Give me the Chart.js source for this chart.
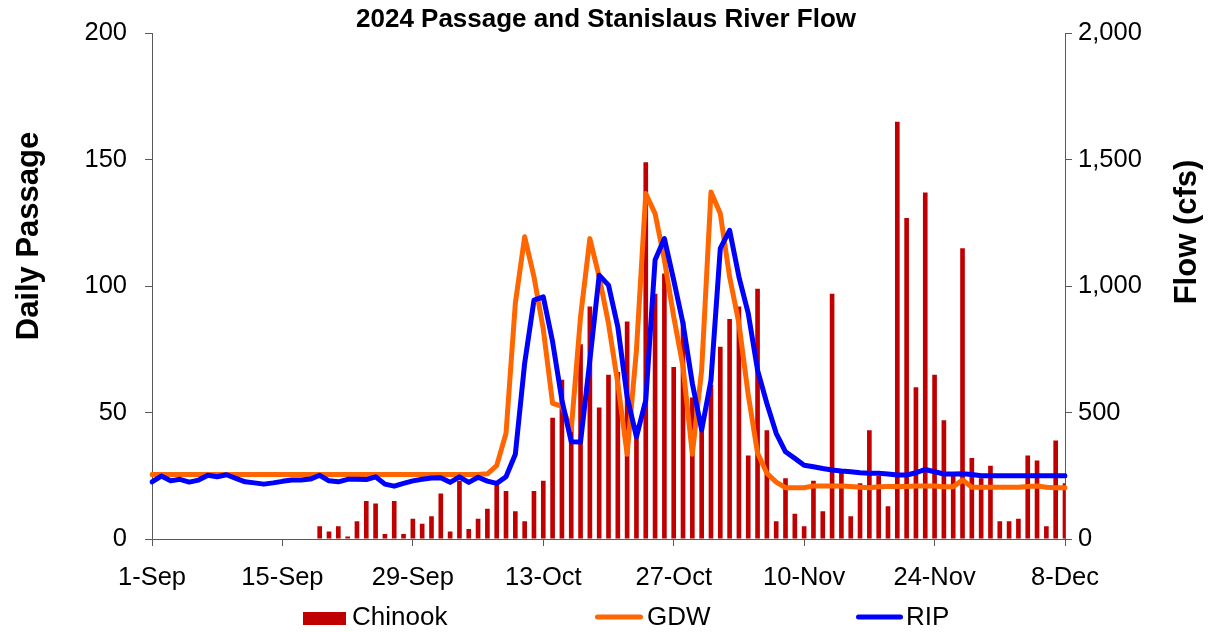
<!DOCTYPE html>
<html>
<head>
<meta charset="utf-8">
<title>2024 Passage and Stanislaus River Flow</title>
<script src="https://cdn.jsdelivr.net/npm/chart.js@4/dist/chart.umd.min.js"></script>
<style>
  html, body { margin: 0; padding: 0; background: #fff; }
  canvas { display: block; }
</style>
</head>
<body>
<canvas id="chart" width="1212" height="632"></canvas>
<script>
// daily values, 1-Sep .. 8-Dec 2024
const chinook = [
  0, 0, 0, 0, 0, 0, 0, 0, 0, 0,
  0, 0, 0, 0, 0, 0, 0, 0, 5, 3,
  5, 1, 7, 15, 14, 2, 15, 2, 8, 6,
  9, 18, 3, 23, 4, 8, 12, 22, 19, 11,
  7, 19, 23, 48, 63, 45, 77, 92, 52, 65,
  66, 86, 45, 149, 97, 105, 68, 86, 56, 45,
  61, 76, 87, 92, 33, 99, 43, 7, 24, 10,
  5, 23, 11, 97, 27, 9, 22, 43, 25, 13,
  165, 127, 60, 137, 65, 47, 25, 115, 32, 24,
  29, 7, 7, 8, 33, 31, 5, 39, 22
];

const gdw = [
  255, 255, 255, 255, 255, 255, 255, 255, 255, 255,
  255, 255, 255, 255, 255, 255, 255, 255, 255, 255,
  255, 255, 255, 255, 255, 255, 255, 255, 255, 255,
  255, 255, 255, 255, 255, 255, 258, 290, 418, 932,
  1195, 1037, 830, 536, 525, 431, 879, 1188, 1037, 852,
  615, 335, 747, 1366, 1287, 1103, 879, 681, 335, 668,
  1372, 1287, 1037, 852, 570, 340, 260, 225, 203, 203,
  203, 210, 210, 210, 210, 208, 205, 203, 207, 208,
  208, 208, 210, 210, 210, 207, 207, 233, 205, 205,
  205, 205, 205, 205, 208, 210, 205, 203, 203
];

const rip = [
  226, 249, 230, 236, 225, 233, 252, 246, 254, 240,
  226, 222, 217, 222, 228, 233, 233, 237, 252, 230,
  226, 236, 236, 235, 246, 217, 209, 220, 230, 236,
  241, 242, 224, 246, 224, 244, 229, 220, 246, 335,
  695, 945, 958, 780, 549, 385, 384, 707, 1043, 1004,
  839, 562, 404, 549, 1103, 1188, 1024, 852, 615, 431,
  628, 1149, 1221, 1037, 892, 668, 536, 418, 345, 319,
  292, 286, 279, 273, 269, 266, 262, 260, 260, 257,
  253, 253, 262, 275, 266, 257, 257, 258, 255, 250,
  250, 250, 250, 250, 250, 250, 250, 250, 250
];

const tickLabels = ['1-Sep', '15-Sep', '29-Sep', '13-Oct', '27-Oct', '10-Nov', '24-Nov', '8-Dec'];

const monthNames = ['Jan', 'Feb', 'Mar', 'Apr', 'May', 'Jun', 'Jul', 'Aug', 'Sep', 'Oct', 'Nov', 'Dec'];
const days = [];
for (let i = 0; i < chinook.length; i++) {
  const d = new Date(2024, 8, 1 + i);
  days.push(d.getDate() + '-' + monthNames[d.getMonth()]);
}

const FONT = '"Liberation Sans", Arial, sans-serif';
const axisColor = '#595959';

// axis titles (both read bottom-to-top) and the spread-out legend
const decorations = {
  id: 'decorations',
  afterDraw(chart) {
    const ctx = chart.ctx;
    ctx.save();
    ctx.fillStyle = '#000';
    ctx.textAlign = 'center';
    ctx.textBaseline = 'alphabetic';
    ctx.font = 'bold 31px ' + FONT;

    ctx.save();
    ctx.translate(38, 236);
    ctx.rotate(-Math.PI / 2);
    ctx.fillText('Daily Passage', 0, 0);
    ctx.restore();

    ctx.save();
    ctx.translate(1196, 232);
    ctx.rotate(-Math.PI / 2);
    ctx.fillText('Flow (cfs)', 0, 0);
    ctx.restore();

    const ds = chart.data.datasets;
    const items = [
      {x: 303, w: 43, textX: 352, box: true},
      {x: 595, w: 48, textX: 647},
      {x: 856, w: 47, textX: 906}
    ];
    ctx.font = '26px ' + FONT;
    ctx.textAlign = 'left';
    items.forEach((it, i) => {
      const d = ds[i];
      if (it.box) {
        ctx.fillStyle = d.backgroundColor;
        ctx.fillRect(it.x, 612, it.w, 13);
      } else {
        ctx.strokeStyle = d.borderColor;
        ctx.lineWidth = 5;
        ctx.lineCap = 'round';
        ctx.beginPath();
        ctx.moveTo(it.x + 2.5, 617);
        ctx.lineTo(it.x + it.w - 2.5, 617);
        ctx.stroke();
      }
      ctx.fillStyle = '#000';
      ctx.fillText(d.label, it.textX, 625);
    });
    ctx.restore();
  }
};

new Chart(document.getElementById('chart').getContext('2d'), {
  type: 'bar',
  data: {
    labels: days,
    datasets: [
      {
        label: 'Chinook',
        data: chinook,
        backgroundColor: '#C00000',
        barPercentage: 0.5,
        categoryPercentage: 1.0,
        yAxisID: 'y',
        order: 3
      },
      {
        type: 'line',
        label: 'GDW',
        data: gdw,
        borderColor: '#FF6600',
        backgroundColor: '#FF6600',
        borderWidth: 5,
        borderJoinStyle: 'round',
        borderCapStyle: 'round',
        pointRadius: 0,
        tension: 0,
        yAxisID: 'y1',
        order: 2
      },
      {
        type: 'line',
        label: 'RIP',
        data: rip,
        borderColor: '#0000FF',
        backgroundColor: '#0000FF',
        borderWidth: 5,
        borderJoinStyle: 'round',
        borderCapStyle: 'round',
        pointRadius: 0,
        tension: 0,
        yAxisID: 'y1',
        order: 1
      }
    ]
  },
  options: {
    responsive: false,
    animation: false,
    layout: { padding: 0 },
    plugins: {
      legend: { display: false },
      tooltip: { enabled: false },
      title: {
        display: true,
        text: '2024 Passage and Stanislaus River Flow',
        color: '#000',
        font: { size: 26, weight: 'bold', family: FONT },
        padding: { top: 4, bottom: -2 }
      }
    },
    scales: {
      x: {
        type: 'category',
        offset: false,
        grid: {
          offset: false,
          drawOnChartArea: false,
          drawTicks: true,
          tickLength: 7,
          color: c => (c.index % 14 === 0 ? axisColor : 'rgba(0,0,0,0)')
        },
        border: { display: true, color: axisColor },
        ticks: {
          autoSkip: false,
          maxRotation: 0,
          minRotation: 0,
          padding: 17,
          color: '#000',
          font: { size: 25.5, family: FONT },
          callback: function (v) {
            const l = this.getLabelForValue(v);
            return tickLabels.includes(l) ? l : '';
          }
        },
        afterFit: s => { s.height = 93; }
      },
      y: {
        position: 'left',
        min: 0,
        max: 200,
        grid: { drawOnChartArea: false, tickLength: 7, color: axisColor },
        border: { display: true, color: axisColor },
        ticks: { stepSize: 50, padding: 18, color: '#000', font: { size: 25.5, family: FONT } },
        afterFit: s => { s.width = 152; }
      },
      y1: {
        position: 'right',
        min: 0,
        max: 2000,
        grid: { drawOnChartArea: false, tickLength: 7, color: axisColor },
        border: { display: true, color: axisColor },
        ticks: {
          stepSize: 500,
          padding: 6,
          color: '#000',
          font: { size: 25.5, family: FONT },
          callback: v => v.toLocaleString('en-US')
        },
        afterFit: s => { s.width = 147; }
      }
    }
  },
  plugins: [decorations]
});
</script>
</body>
</html>
